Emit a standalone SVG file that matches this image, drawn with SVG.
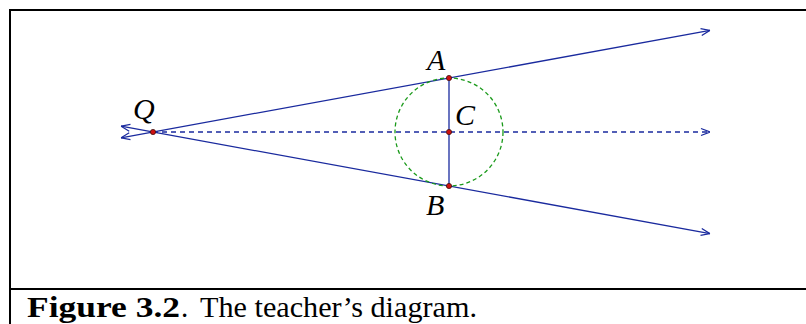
<svg xmlns="http://www.w3.org/2000/svg" width="806" height="324" viewBox="0 0 806 324">
<style>
.frame{stroke:#000;stroke-width:2;fill:none}
.ray{stroke:#1a2a9e;stroke-width:1.3;fill:none}
.dash{stroke:#1a2a9e;stroke-width:1.4;fill:none;stroke-dasharray:5 4}
.circ{stroke:#1a9a1a;stroke-width:1.3;fill:none;stroke-dasharray:4 3}
.pt{fill:#d01010;stroke:#401010;stroke-width:0.8}
.lbl{font-style:italic;font-size:30px;fill:#000}
.cap{font-size:29px;fill:#000}
</style>
<defs>
<marker id="arr" viewBox="0 0 10 10" refX="10" refY="5" markerWidth="10" markerHeight="10" markerUnits="userSpaceOnUse" orient="auto-start-reverse">
<path d="M1,1.5 L10,5 L1,8.5" fill="none" stroke="#1a2a9e" stroke-width="1.3"/>
</marker>
</defs>
<rect width="806" height="324" fill="#fff"/>
<g id="frame">
<line class="frame" x1="10" y1="10" x2="806" y2="10"/>
<line class="frame" x1="10" y1="9" x2="10" y2="324"/>
<line class="frame" x1="10" y1="289" x2="806" y2="289"/>
</g>
<g id="connectors">
<line class="ray" x1="121" y1="137.8" x2="710" y2="30.4" marker-start="url(#arr)" marker-end="url(#arr)"/>
<line class="ray" x1="121" y1="126.2" x2="710" y2="233.6" marker-start="url(#arr)" marker-end="url(#arr)"/>
<line class="dash" x1="153" y1="132" x2="710" y2="132" marker-end="url(#arr)"/>
<line class="ray" x1="449" y1="78" x2="449" y2="186"/>
</g>
<g id="circle">
<circle class="circ" cx="449" cy="132" r="54"/>
</g>
<g font-family="'Liberation Serif', Tinos, 'Times New Roman', Times, serif">
<g id="Q">
<circle class="pt" cx="153" cy="132" r="2.6"/>
<text class="lbl" x="133" y="119">Q</text>
</g>
<g id="A">
<circle class="pt" cx="449" cy="78" r="2.6"/>
<text class="lbl" x="427" y="70">A</text>
</g>
<g id="C">
<circle class="pt" cx="449" cy="132" r="2.6"/>
<text class="lbl" x="455" y="125">C</text>
</g>
<g id="B">
<circle class="pt" cx="449" cy="186" r="2.6"/>
<text class="lbl" x="426" y="215">B</text>
</g>
<g id="caption">
<text class="cap" x="27" y="317" font-weight="bold" textLength="153" lengthAdjust="spacingAndGlyphs">Figure 3.2</text>
<text class="cap" x="181" y="317">.</text>
<text class="cap" x="200" y="317" textLength="277" lengthAdjust="spacingAndGlyphs">The teacher’s diagram.</text>
</g>
</g>
</svg>
